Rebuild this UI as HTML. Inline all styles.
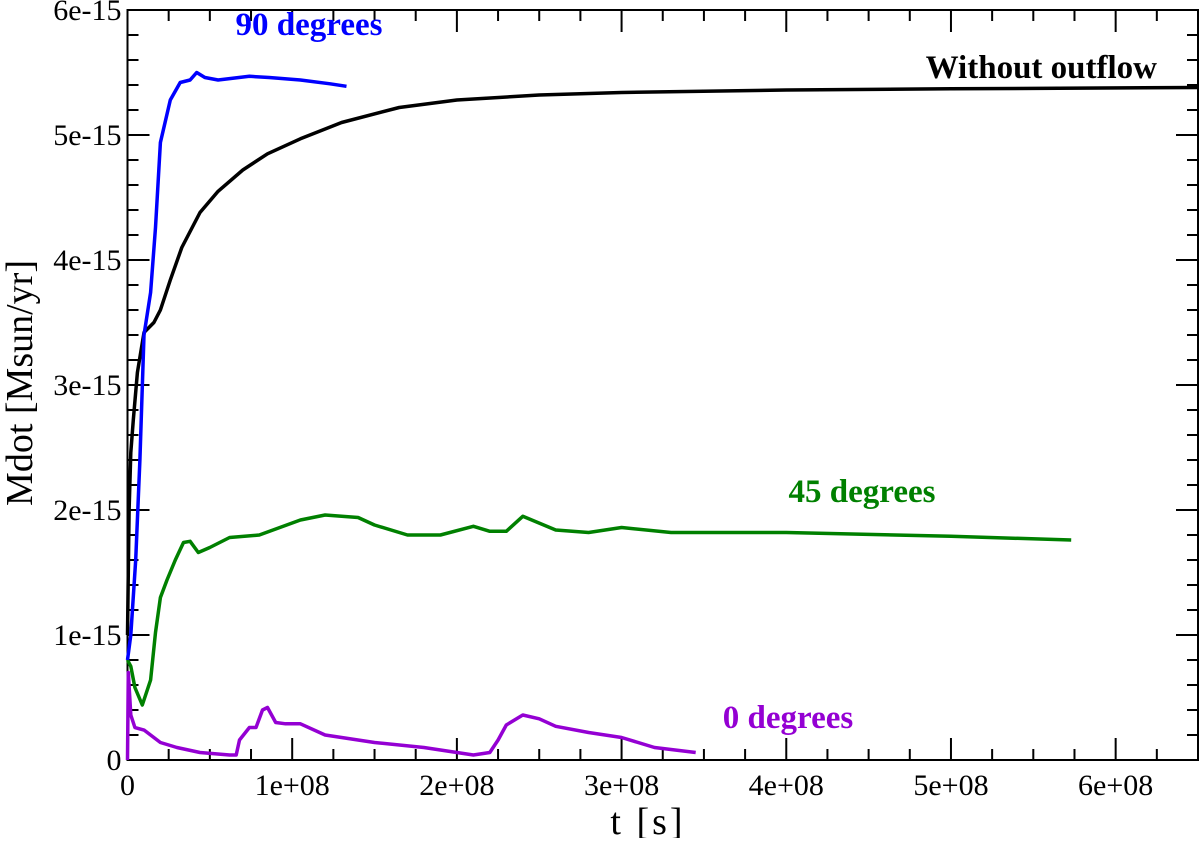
<!DOCTYPE html>
<html><head><meta charset="utf-8"><style>
html,body{margin:0;padding:0;background:#fff;}
svg text{font-family:"Liberation Serif",serif;}
</style></head><body>
<svg id="chart" width="1200" height="838" xmlns="http://www.w3.org/2000/svg">
<g id="axes"></g>
<g id="series"></g>
<text x="309" y="35" text-anchor="middle" font-size="33" font-weight="bold" fill="#0000ff">90 degrees</text>
<text x="1157" y="78" text-anchor="end" font-size="33" font-weight="bold" fill="#000">Without outflow</text>
<text x="862" y="502" text-anchor="middle" font-size="33" font-weight="bold" fill="#008000">45 degrees</text>
<text x="788" y="728" text-anchor="middle" font-size="33" font-weight="bold" fill="#9400d3">0 degrees</text>
<text x="648" y="834" text-anchor="middle" font-size="38" letter-spacing="3">t [s]</text>
<text transform="translate(32,383) rotate(-90)" text-anchor="middle" font-size="38">Mdot [Msun/yr]</text>
</svg>
<script>
const xTicks=[0,1e8,2e8,3e8,4e8,5e8,6e8];
const xTickLabels=["0","1e+08","2e+08","3e+08","4e+08","5e+08","6e+08"];
const yTicks=[0,1,2,3,4,5,6];
const yTickLabels=["0","1e-15","2e-15","3e-15","4e-15","5e-15","6e-15"];
const tBlack=[0,0.01,0.02,0.035,0.06,0.1,0.16,0.2,0.26,0.33,0.44,0.55,0.7,0.85,1.05,1.3,1.65,2,2.5,3,4,5,6.5];
const vBlack=[1.0,2.0,2.46,2.72,3.1,3.42,3.5,3.6,3.84,4.1,4.38,4.55,4.72,4.85,4.97,5.1,5.22,5.28,5.32,5.34,5.36,5.37,5.38];
const t90=[0,0.02,0.05,0.075,0.1,0.14,0.17,0.2,0.26,0.32,0.38,0.42,0.47,0.55,0.74,0.86,1.05,1.23,1.33];
const v90=[0.8,1.0,1.6,2.4,3.4,3.74,4.26,4.94,5.28,5.42,5.44,5.5,5.46,5.44,5.47,5.46,5.44,5.41,5.39];
const t45=[0,0.02,0.045,0.09,0.14,0.17,0.2,0.24,0.29,0.34,0.38,0.43,0.5,0.62,0.8,1.05,1.2,1.4,1.5,1.7,1.9,2.1,2.2,2.3,2.4,2.6,2.8,3.0,3.3,4.0,5.0,5.73];
const v45=[0.8,0.75,0.58,0.44,0.64,1.02,1.3,1.44,1.6,1.74,1.75,1.66,1.7,1.78,1.8,1.92,1.96,1.94,1.88,1.8,1.8,1.87,1.83,1.83,1.95,1.84,1.82,1.86,1.82,1.82,1.79,1.76];
const t0=[0,0.005,0.02,0.045,0.1,0.2,0.3,0.44,0.62,0.66,0.68,0.74,0.78,0.82,0.85,0.9,0.96,1.05,1.2,1.5,1.8,2.0,2.1,2.2,2.25,2.3,2.4,2.5,2.6,2.8,3.0,3.2,3.45];
const v0=[0,0.7,0.36,0.26,0.24,0.14,0.1,0.06,0.04,0.04,0.16,0.26,0.26,0.4,0.42,0.3,0.29,0.29,0.2,0.14,0.1,0.06,0.04,0.06,0.16,0.28,0.36,0.33,0.27,0.22,0.18,0.1,0.06];
const L=127.5,R=1198,T=10,B=760,XMAX=6.5e8,YMAX=6;
const X=v=>L+(v/XMAX)*(R-L);
const Y=v=>B-(v/YMAX)*(B-T);
const NS="http://www.w3.org/2000/svg";
function mk(tag,attrs,parent){const e=document.createElementNS(NS,tag);for(const k in attrs)e.setAttribute(k,attrs[k]);parent.appendChild(e);return e;}
const ax=document.getElementById('axes');
const frame=mk('rect',{x:L,y:T,width:R-L,height:B-T,fill:'none',stroke:'#000','stroke-width':2},ax);


for(let v=0;v<=XMAX+1;v+=0.25e8){const major=Math.abs(v/1e8-Math.round(v/1e8))<1e-6;const len=major?22:11;
 const a=mk('line',{x1:X(v),x2:X(v),y1:B,y2:B-len,stroke:'#000','stroke-width':2},ax);
 
 
 const b=mk('line',{x1:X(v),x2:X(v),y1:T,y2:T+len,stroke:'#000','stroke-width':2},ax);
 
 }
for(let v=0;v<=YMAX+0.01;v+=0.2){const major=Math.abs(v-Math.round(v))<1e-6;const len=major?22:11;
 const a=mk('line',{x1:L,x2:L+len,y1:Y(v),y2:Y(v),stroke:'#000','stroke-width':2},ax);
 
 
 const b=mk('line',{x1:R,x2:R-len,y1:Y(v),y2:Y(v),stroke:'#000','stroke-width':2},ax);
 
 }
xTicks.forEach((v,i)=>{const t=mk('text',{x:X(v),y:B+35,'text-anchor':'middle','font-size':30},ax);t.textContent=xTickLabels[i];
 
 });
yTicks.forEach((v,i)=>{const t=mk('text',{x:L-6,y:Y(v)+10,'text-anchor':'end','font-size':30},ax);t.textContent=yTickLabels[i];
 
 });
const sg=document.getElementById('series');
function line(ts,vs,color,name){const d=ts.map((t,i)=>(i?'L':'M')+X(t*1e8).toFixed(1)+','+Y(vs[i]).toFixed(1)).join(' ');
 const p=mk('path',{d:d,fill:'none',stroke:color,'stroke-width':3.5,'stroke-linejoin':'round'},sg);
 
 }
line(tBlack,vBlack,'#000','line-without-outflow');
line(t45,v45,'#008000','line-45-degrees');
line(t0,v0,'#9400d3','line-0-degrees');
line(t90,v90,'#0000ff','line-90-degrees');
</script>
</body></html>
